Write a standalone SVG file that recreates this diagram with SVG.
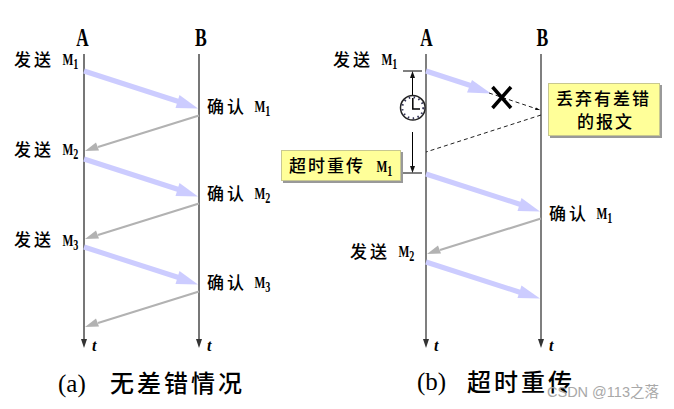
<svg xmlns="http://www.w3.org/2000/svg" width="674" height="409" viewBox="0 0 674 409">
<style>
text{font-family:"Liberation Serif","Noto Sans CJK SC",serif;fill:#000}
.cn{font-family:"Noto Sans CJK SC",sans-serif;font-size:17px;letter-spacing:3px;font-weight:500}
.bx{font-family:"Noto Sans CJK SC",sans-serif;font-size:17px;letter-spacing:2px;font-weight:500}
.m{font-family:"Liberation Serif",serif;font-size:16px;font-weight:700}
.s{font-size:14px;font-weight:700}
.h{font-size:26px;font-weight:700;text-anchor:middle}
.t{font-size:16px;font-style:italic;font-weight:700}
.cap{font-size:25px}
.capcn{font-family:"Noto Sans CJK SC",sans-serif;font-size:24px;letter-spacing:3px;font-weight:500}
.life{stroke:#777;stroke-width:2;fill:none}
.lifeb{stroke:#555;stroke-width:1.5;fill:none}
.tip{fill:#333}
.blue{stroke:#ccccff;stroke-width:5;fill:none}
.bh{fill:#ccccff}
.gray{stroke:#b2b2b2;stroke-width:2.200;fill:none}
.gh{fill:#b2b2b2}
.box{fill:#ffff99;stroke:#c8c890;stroke-width:1}
.shadow{fill:#999}
.dash{stroke:#222;stroke-width:1;stroke-dasharray:4 3;fill:none}
.thin{stroke:#000;stroke-width:1;fill:none}
</style>
<rect width="674" height="409" fill="#fff"/>
<g id="connectors">
<path class="life" d="M84 54V341"/><path class="tip" d="M81 339H87L84 348Z"/>
<path class="life" d="M199 54V341"/><path class="tip" d="M196 339H202L199 348Z"/>
<path class="lifeb" d="M426 54V341"/><path class="tip" d="M423 339H429L426 348Z"/>
<path class="lifeb" d="M541 54V341"/><path class="tip" d="M538 339H544L541 348Z"/>
<g id="left-arrows">
<path class="blue" d="M84 71L180 102"/><path class="bh" d="M179.500 95L198 108.500L175.500 108Z"/>
<path class="gray" d="M199 115.500L98 147"/><path class="gh" d="M85 151L96 142.500L99 150.500Z"/>
<path class="blue" d="M84 159L180 190"/><path class="bh" d="M179.500 183L198 196.500L175.500 196Z"/>
<path class="gray" d="M199 203.500L98 235"/><path class="gh" d="M85 239L96 230.500L99 238.500Z"/>
<path class="blue" d="M84 247L180 278"/><path class="bh" d="M179.500 271L198 284.500L175.500 284Z"/>
<path class="gray" d="M199 291.500L98 323"/><path class="gh" d="M85 327L96 318.500L99 326.500Z"/>
</g>
<g id="right-arrows">
<path class="blue" d="M426 71L472 86"/><path class="bh" d="M472 80L491 93.500L467 92.500Z"/>
<path class="dash" d="M489 93L540 110"/>
<path d="M540 110L535 110L536 107.500Z" fill="#111"/>
<path class="dash" d="M541 115L426 152"/>
<path class="blue" d="M426 174L522 205"/><path class="bh" d="M521.500 198L540 211.500L517.500 211Z"/>
<path class="gray" d="M541 218.500L440 250"/><path class="gh" d="M427 254L438 245.500L441 253.500Z"/>
<path class="blue" d="M426 262L522 293"/><path class="bh" d="M521.500 285.500L540 298.500L517.500 298Z"/>
</g>
<g id="timer-bars">
<path class="thin" d="M403 71H422M403 173H422"/>
<path class="thin" d="M412.500 95V78"/>
<path d="M412.500 71L410 78L415 78Z" fill="#111"/>
<path class="thin" d="M412.500 132V166"/>
<path d="M412.500 173L410 166L415 166Z" fill="#111"/>
</g>
</g>
<g id="clock">
<circle cx="412.800" cy="107.800" r="12.300" fill="#fff" stroke="#222" stroke-width="1.500"/>
<circle cx="412.800" cy="107.800" r="10.500" fill="none" stroke="#335" stroke-width="2" stroke-dasharray="1.500 3.500"/>
<path d="M412.800 98V109H420" fill="none" stroke="#000" stroke-width="1.500"/>
</g>
<g id="cross"><path d="M492.500 87L511 108M511 87L492.500 108" stroke="#000" stroke-width="3.500" fill="none"/></g>
<g id="left-a-label"><text class="h" transform="translate(82.500 46) scale(.66 1)">A</text></g>
<g id="left-b-label"><text class="h" transform="translate(201 46) scale(.68 1)">B</text></g>
<g id="right-a-label"><text class="h" transform="translate(426.500 46) scale(.66 1)">A</text></g>
<g id="right-b-label"><text class="h" transform="translate(542.500 46) scale(.68 1)">B</text></g>
<g id="send-l1"><text class="cn" x="14" y="66">发送</text><text class="m" transform="translate(62.500 65) scale(.72 1)">M<tspan class="s" dy="4">1</tspan></text></g>
<g id="send-l2"><text class="cn" x="14" y="156">发送</text><text class="m" transform="translate(62.500 155) scale(.72 1)">M<tspan class="s" dy="4">2</tspan></text></g>
<g id="send-l3"><text class="cn" x="14" y="246">发送</text><text class="m" transform="translate(62.500 246) scale(.72 1)">M<tspan class="s" dy="4">3</tspan></text></g>
<g id="ack-l1"><text class="cn" x="207" y="113">确认</text><text class="m" transform="translate(254.500 112) scale(.72 1)">M<tspan class="s" dy="4">1</tspan></text></g>
<g id="ack-l2"><text class="cn" x="207" y="200">确认</text><text class="m" transform="translate(254.500 199) scale(.72 1)">M<tspan class="s" dy="4">2</tspan></text></g>
<g id="ack-l3"><text class="cn" x="207" y="289">确认</text><text class="m" transform="translate(254.500 288) scale(.72 1)">M<tspan class="s" dy="4">3</tspan></text></g>
<g id="send-r1"><text class="cn" x="333" y="66">发送</text><text class="m" transform="translate(381.500 65) scale(.72 1)">M<tspan class="s" dy="4">1</tspan></text></g>
<g id="send-r2"><text class="cn" x="350" y="258">发送</text><text class="m" transform="translate(398.500 257) scale(.72 1)">M<tspan class="s" dy="4">2</tspan></text></g>
<g id="ack-r1"><text class="cn" x="549" y="220">确认</text><text class="m" transform="translate(596.500 219) scale(.72 1)">M<tspan class="s" dy="4">1</tspan></text></g>
<g id="discard-box">
<rect class="shadow" x="550" y="85" width="112" height="53"/>
<rect class="box" x="548.500" y="83.500" width="111" height="52"/>
<text class="bx" x="556" y="105">丢弃有差错</text>
<text class="bx" x="577" y="128">的报文</text>
</g>
<g id="retransmit-box">
<rect class="shadow" x="283" y="152" width="120" height="31"/>
<rect class="box" x="281.500" y="150.500" width="119" height="30"/>
<text class="bx" x="289" y="172">超时重传</text>
<text class="m" transform="translate(376.500 172) scale(.72 1)">M<tspan class="s" dy="4">1</tspan></text>
</g>
<g id="t-labels">
<text class="t" x="92" y="351">t</text>
<text class="t" x="207" y="351">t</text>
<text class="t" x="434" y="351">t</text>
<text class="t" x="549" y="351">t</text>
</g>
<g id="caption-a"><text class="cap" x="58" y="392">(a)</text><text class="capcn" x="110" y="392">无差错情况</text></g>
<g id="caption-b"><text class="cap" x="417" y="390">(b)</text><text class="capcn" x="467" y="391">超时重传</text></g>
<text x="547" y="397" font-size="14.500" style="font-family:'Liberation Sans','Noto Sans CJK SC',sans-serif;fill:#a8a8a8">CSDN @113之落</text>
</svg>
